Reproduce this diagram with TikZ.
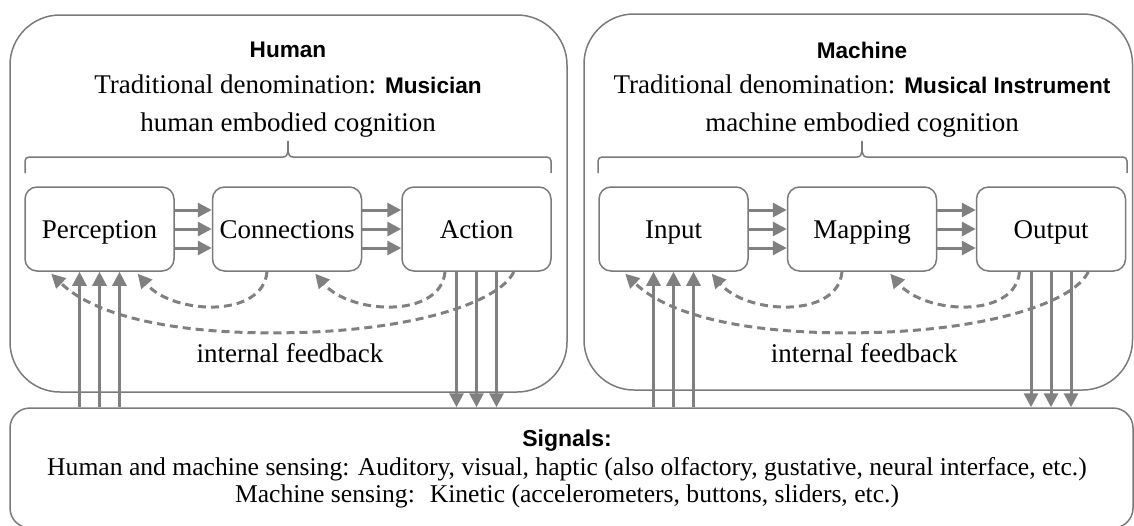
\documentclass[tikz,border=0pt]{standalone}
\usepackage{fontspec}
\setmainfont{Liberation Serif}
\newfontfamily\hsans{Liberation Sans}
\usetikzlibrary{arrows.meta,calc}
\definecolor{linegray}{HTML}{7A7A7A}
\definecolor{arrgray}{HTML}{808080}
\newcommand\labfont{\fontsize{13.5}{16}\selectfont}
\newcommand\sigfont{\fontsize{12.8}{15}\selectfont}
\newcommand\headfont{\hsans\bfseries\fontsize{11.3}{13}\selectfont}
\tikzset{
  outerbox/.style={draw=linegray, line width=0.75pt, rounded corners=25pt, inner sep=0pt},
  sigbox/.style={draw=linegray, line width=0.75pt, rounded corners=10pt, inner sep=0pt},
  inbox/.style={draw=linegray, line width=0.75pt, rounded corners=6pt, minimum width=74.5pt, minimum height=42pt, inner sep=0pt, font=\labfont, text height=12pt, text depth=2.5pt},
  arr/.style={draw=arrgray, line width=1.5pt, -{Triangle[length=7pt,width=7pt]}},
  fb/.style={draw=arrgray, line width=1.5pt, dash pattern=on 4pt off 2.5pt, -{Triangle[length=7pt,width=7pt]}},
  bracepath/.style={draw=linegray, line width=0.75pt},
  txt/.style={font=\labfont, inner sep=0pt},
}
\newcommand\cogarrows[4]{%
  \foreach \d in {-19,0,19}{
    \draw[arr] ($(#1.east)+(0,\d)$) -- ($(#2.west)+(0,\d)$);
    \draw[arr] ($(#2.east)+(0,\d)$) -- ($(#3.west)+(0,\d)$);
  }
  \foreach \d [count=\i] in {-20,0,20}{
    \coordinate (#1u\i) at ($(#1.south)+(\d,0)$);
    \coordinate (#3d\i) at ($(#3.south)+(\d,0)$);
    \draw[arr] (#1u\i |- sig.north) -- (#1u\i);
    \draw[arr] (#3d\i) -- (#3d\i |- sig.north);
  }
  \draw[fb] ($(#2.south)+(-20,0)$) .. controls +(-4,47) and +(35,41) .. ($(#1.south east)+(-37,2)$);
  \draw[fb] ($(#3.south)+(-31.5,0)$) .. controls +(-4,47) and +(35,41) .. ($(#2.south east)+(-47,2)$);
  \coordinate (#4mid) at ($(#1.south)!0.5!(#3.south)+(0,61)$);
  \draw[fb] ($(#3.south east)+(-38,0)$) .. controls +(-13,29) and +(130,-2) .. (#4mid)
     .. controls +(-130,2) and +(38,37) .. ($(#1.south west)+(27,2)$);
  \node[txt] (#4lab) at ($(#4mid)+(2,20)$) {internal feedback};
}
\begin{document}
\begin{tikzpicture}[x=0.5pt,y=-0.5pt]
\useasboundingbox (0,0) rectangle (1134,525);
% containers
\node[outerbox, minimum width=278.5pt, minimum height=188.5pt] (human) at (288.5,203.5) {};
\node[outerbox, minimum width=274.25pt, minimum height=188pt] (machine) at (858.25,202) {};
\node[sigbox, minimum width=561.5pt, minimum height=60pt] (sig) at (571.5,468) {};
% headers
\node[font=\headfont, inner sep=0pt] (htitle) at (288,50) {Human};
\node[txt] (hden) at (288,84) {Traditional denomination: {\headfont Musician}};
\node[txt] (hemb) at (288,125) {human embodied cognition};
\node[font=\headfont, inner sep=0pt] (mtitle) at (862,50) {Machine};
\node[txt] (mden) at (862,84) {Traditional denomination: {\headfont Musical Instrument}};
\node[txt] (memb) at (862,125) {machine embodied cognition};
% inner boxes
\node[inbox] (perc) at (99.5,229) {Perception};
\node[inbox] (conn) at (287,229) {Connections};
\node[inbox] (act) at (476.5,229) {Action};
\node[inbox] (inp) at (673.5,229) {Input};
\node[inbox] (map) at (862,229) {Mapping};
\node[inbox] (outp) at (1051,229) {Output};
% braces
\draw[bracepath] (25,173) -- (25,161) to[out=90,in=180] (29,157) -- (283,157)
  to[out=0,in=-90] (288,141) to[out=-90,in=180] (293,157) -- (547,157)
  to[out=0,in=90] (551,161) -- (551,173);
\draw[bracepath] (598,173) -- (598,161) to[out=90,in=180] (602,157) -- (857,157)
  to[out=0,in=-90] (862,141) to[out=-90,in=180] (867,157) -- (1123,157)
  to[out=0,in=90] (1127,161) -- (1127,173);
% arrows
\cogarrows{perc}{conn}{act}{h}
\cogarrows{inp}{map}{outp}{m}
% signals text
\node[font=\hsans\bfseries\fontsize{11.5}{14}\selectfont, inner sep=0pt] (sigt) at (567,441) {Signals:};
\node[font=\sigfont, inner sep=0pt] (sig1) at (567,469) {Human and machine sensing: Auditory, visual, haptic (also olfactory, gustative, neural interface, etc.)};
\node[font=\sigfont, inner sep=0pt] (sig2) at (567,496) {Machine sensing:~ Kinetic (accelerometers, buttons, sliders, etc.)};
\end{tikzpicture}
\end{document}
